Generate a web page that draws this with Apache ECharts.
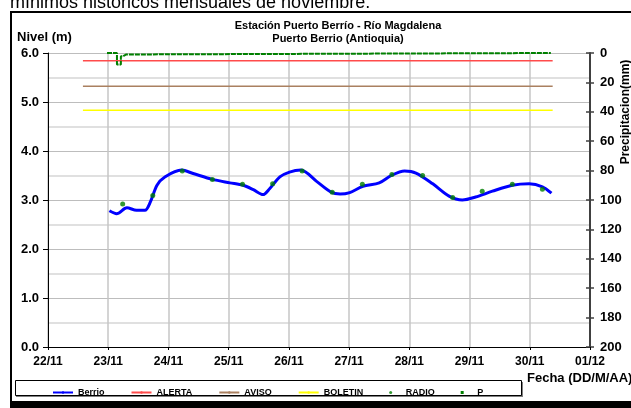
<!DOCTYPE html>
<html>
<head>
<meta charset="utf-8">
<script src="https://cdn.jsdelivr.net/npm/echarts@6/dist/echarts.min.js"></script>
<style>
  html, body { margin: 0; padding: 0; background: #fff; }
  #grafico { width: 631px; height: 408px; }
</style>
</head>
<body>
<div id="grafico"></div>
<script>
// eje x en días desde el 22/11 00:00
const etiquetasFecha = ['22/11', '23/11', '24/11', '25/11', '26/11', '27/11', '28/11', '29/11', '30/11', '01/12'];

// nivel Berrio (m)
const diasNivel = [1.02, 1.14, 1.31, 1.47, 1.61, 1.70, 1.81, 1.94, 2.22, 2.41, 2.73, 3.02, 3.24, 3.41, 3.57, 3.68, 3.85, 4.01, 4.20, 4.46, 4.70, 4.85, 5.01, 5.23, 5.50, 5.70, 5.92, 6.11, 6.39, 6.66, 6.88, 7.10, 7.38, 7.71, 7.99, 8.21, 8.36];
const nivelBerrio = [2.78, 2.72, 2.84, 2.79, 2.79, 2.96, 3.30, 3.47, 3.61, 3.54, 3.42, 3.35, 3.30, 3.21, 3.11, 3.23, 3.47, 3.57, 3.61, 3.38, 3.16, 3.12, 3.15, 3.28, 3.35, 3.50, 3.59, 3.55, 3.33, 3.08, 3.00, 3.06, 3.18, 3.30, 3.33, 3.27, 3.14];

// lecturas de radio (m)
const diasRadio = [1.24, 1.74, 2.23, 2.73, 3.23, 3.73, 4.22, 4.72, 5.22, 5.71, 6.22, 6.72, 7.21, 7.71, 8.21];
const nivelRadio = [2.92, 3.09, 3.59, 3.42, 3.32, 3.33, 3.59, 3.16, 3.32, 3.52, 3.50, 3.05, 3.18, 3.32, 3.22];

// umbrales (m)
const diasUmbral = [0.58, 8.38];
const alerta = 5.84;
const aviso = 5.32;
const boletin = 4.83;

// precipitación (mm)
const diasLluvia = [0.98, 1.145, 1.21, 1.245, 1.30, 8.35];
const lluvia = [0, 7.8, 2.2, 1.0, 0, 0];

const fuente = 'Arial, "Liberation Sans", sans-serif';
const pares = (xs, ys) => xs.map((x, i) => [x, ys[i]]);

const chart = echarts.init(document.getElementById('grafico'));
chart.setOption({
  backgroundColor: '#fff',
  animation: false,
  textStyle: { fontFamily: fuente },
  title: {
    text: 'Estación Puerto Berrío - Río Magdalena\nPuerto Berrio (Antioquia)',
    left: 338,
    top: 19,
    padding: 0,
    textAlign: 'center',
    textStyle: { fontSize: 11, fontWeight: 'bold', lineHeight: 13, color: '#000', fontFamily: fuente }
  },
  legend: {
    left: 47,
    top: 383,
    itemWidth: 20,
    itemHeight: 3,
    itemGap: 26,
    textStyle: { fontSize: 9, fontWeight: 'bold', color: '#000', fontFamily: fuente },
    data: [
      { name: 'Berrio' },
      { name: 'ALERTA' },
      { name: 'AVISO' },
      { name: 'BOLETIN' },
      { name: 'RADIO', icon: 'circle' },
      { name: 'P', icon: 'path://M0,0h2v2h-2z' }
    ]
  },
  grid: { left: 48, right: 41, top: 53, bottom: 61 },
  xAxis: {
    type: 'value',
    min: 0,
    max: 9,
    interval: 1,
    axisLine: { lineStyle: { color: '#000', width: 1 } },
    axisTick: { length: 3, lineStyle: { color: '#000' } },
    axisLabel: {
      formatter: v => etiquetasFecha[v],
      fontSize: 12, fontWeight: 'bold', color: '#000', margin: 9
    },
    splitLine: { show: true, lineStyle: { color: '#c6c6c6', width: 1.5 } }
  },
  yAxis: [
    {
      type: 'value',
      min: 0,
      max: 6,
      interval: 1,
      axisLine: { show: true, lineStyle: { color: '#000' } },
      axisTick: { show: true, length: 5, lineStyle: { color: '#000' } },
      axisLabel: { formatter: v => v.toFixed(1), fontSize: 13, fontWeight: 'bold', color: '#000', margin: 9 },
      splitLine: { show: true, lineStyle: { color: '#bdbdbd', width: 1 } },
      minorTick: { show: false, splitNumber: 2 },
      minorSplitLine: { show: true, lineStyle: { color: '#d6d6d6', width: 1.5 } }
    },
    {
      type: 'value',
      position: 'right',
      min: 0,
      max: 200,
      interval: 20,
      inverse: true,
      axisLine: { show: true, lineStyle: { color: '#404040', width: 2 } },
      axisTick: { show: true, length: 4, lineStyle: { color: '#404040', width: 1.5 } },
      axisLabel: { fontSize: 13, fontWeight: 'bold', color: '#000', margin: 10 },
      splitLine: { show: false }
    },
    {
      type: 'value',
      position: 'right',
      min: 0,
      max: 200,
      interval: 20,
      inverse: true,
      axisLine: { show: false },
      axisTick: { show: true, inside: true, length: 4, lineStyle: { color: '#404040', width: 1.5 } },
      axisLabel: { show: false },
      splitLine: { show: false }
    }
  ],
  series: [
    {
      name: 'ALERTA', type: 'line', symbol: 'none', z: 2,
      data: diasUmbral.map(d => [d, alerta]),
      lineStyle: { color: '#ff4b4b', width: 1.5 }, itemStyle: { color: '#ff4b4b' }
    },
    {
      name: 'AVISO', type: 'line', symbol: 'none', z: 2,
      data: diasUmbral.map(d => [d, aviso]),
      lineStyle: { color: '#aa8060', width: 1.5 }, itemStyle: { color: '#aa8060' }
    },
    {
      name: 'BOLETIN', type: 'line', symbol: 'none', z: 2,
      data: diasUmbral.map(d => [d, boletin]),
      lineStyle: { color: '#ffff00', width: 1.5 }, itemStyle: { color: '#ffff00' }
    },
    {
      name: 'Berrio', type: 'line', symbol: 'none', smooth: 0.3, z: 3,
      data: pares(diasNivel, nivelBerrio),
      lineStyle: { color: '#0000ff', width: 3 }, itemStyle: { color: '#0000ff' }
    },
    {
      name: 'RADIO', type: 'scatter', symbolSize: 5, z: 4,
      data: pares(diasRadio, nivelRadio),
      itemStyle: { color: '#008000' }
    },
    {
      name: 'P', type: 'line', yAxisIndex: 1, step: 'end', symbol: 'none', clip: false, z: 5,
      data: pares(diasLluvia, lluvia),
      lineStyle: { color: '#008000', width: 2, type: [5, 1] }, itemStyle: { color: '#008000' }
    }
  ],
  graphic: [
    {
      type: 'text', left: 10, top: -6,
      style: { text: 'mínimos históricos mensuales de noviembre.', font: '18px ' + fuente, fill: '#000' }
    },
    { type: 'rect', shape: { x: 10, y: 11, width: 625, height: 2 }, style: { fill: '#000' } },
    { type: 'rect', shape: { x: 10, y: 11, width: 2, height: 392 }, style: { fill: '#000' } },
    { type: 'rect', shape: { x: 10, y: 401, width: 625, height: 7 }, style: { fill: '#000' } },
    {
      type: 'rect', z: -1, shape: { x: 16, y: 382, width: 507, height: 15 },
      style: { fill: '#808080' }
    },
    {
      type: 'rect', z: -1, shape: { x: 15.5, y: 380.5, width: 506, height: 15 },
      style: { fill: '#fff', stroke: '#000', lineWidth: 1 }
    },
    {
      type: 'text', left: 17, top: 31,
      style: { text: 'Nivel (m)', font: 'bold 13px ' + fuente, fill: '#000' }
    },
    {
      type: 'text', left: 527, top: 372,
      style: { text: 'Fecha (DD/M/AA)', font: 'bold 13px ' + fuente, fill: '#000' }
    },
    {
      type: 'text', x: 626, y: 112, rotation: Math.PI / 2,
      style: { text: 'Precipitacion(mm)', font: 'bold 12px ' + fuente, fill: '#000', align: 'center', verticalAlign: 'middle' }
    }
  ]
});
</script>
</body>
</html>
